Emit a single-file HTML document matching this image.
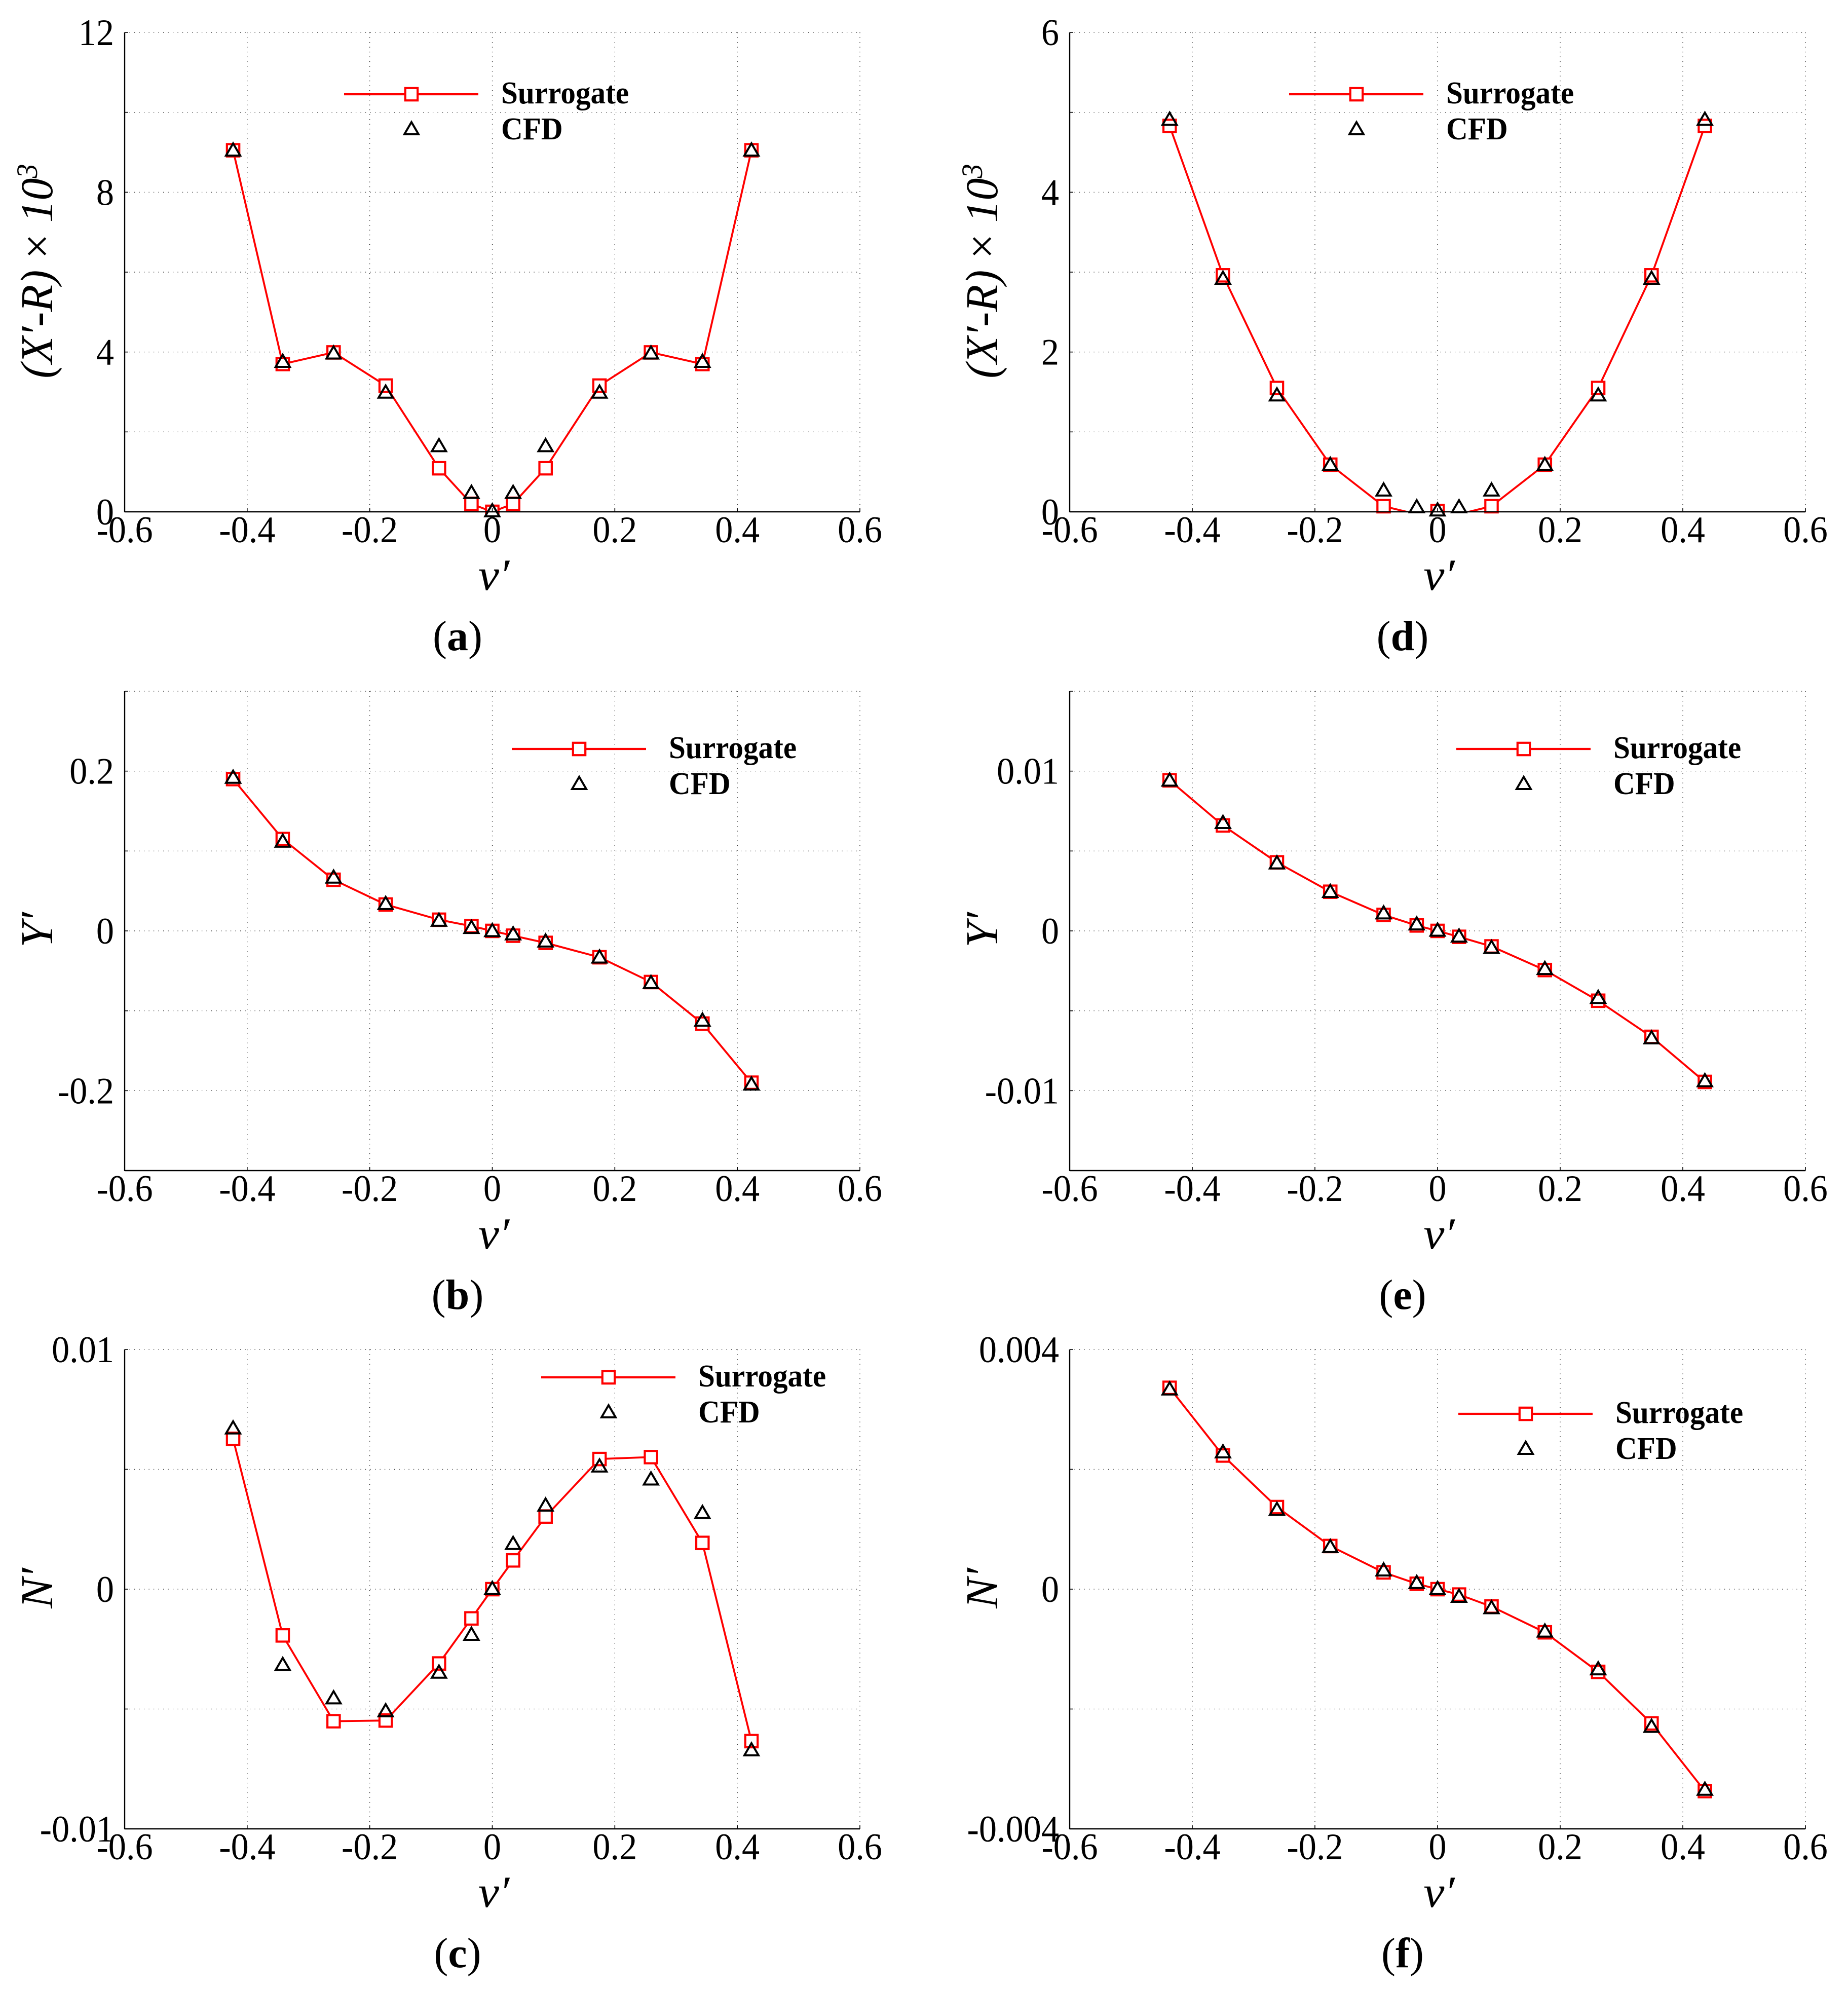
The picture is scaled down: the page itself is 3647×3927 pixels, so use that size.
<!DOCTYPE html>
<html lang="en">
<head>
<meta charset="utf-8">
<title>Surrogate vs CFD force and moment curves</title>
<style>
html,body{margin:0;padding:0;background:#fff;}
svg{display:block;}
text{font-family:"Liberation Serif",serif;fill:#000;}
</style>
</head>
<body>
<svg id="figure" xmlns="http://www.w3.org/2000/svg" width="3647" height="3927" viewBox="0 0 3647 3927">
<rect x="0" y="0" width="3647" height="3927" fill="#fff"/>
</svg>
<script>
// Shared x-axis
const xTickValues = [-0.6, -0.4, -0.2, 0, 0.2, 0.4, 0.6];
const xTickLabels = ['-0.6', '-0.4', '-0.2', '0', '0.2', '0.4', '0.6'];

// v' sample points
const vLeft = [-0.423, -0.342, -0.259, -0.174, -0.087, -0.034, 0, 0.034, 0.087, 0.175, 0.259, 0.343, 0.423];
const vRight = [-0.437, -0.350, -0.262, -0.175, -0.088, -0.034, 0, 0.035, 0.088, 0.175, 0.262, 0.349, 0.436];

// Panel (a)
const aSurrogate = [9.05, 3.70, 3.99, 3.16, 1.09, 0.20, 0.0, 0.20, 1.09, 3.16, 3.99, 3.70, 9.05];
const aCfd = [9.07, 3.78, 3.99, 3.01, 1.67, 0.50, 0.04, 0.50, 1.67, 3.01, 3.99, 3.78, 9.07];
const aYTicks = [0, 4, 8, 12];
const aYTickLabels = ['0', '4', '8', '12'];
const aYGrid = [2, 4, 6, 8, 10, 12];

// Panel (b)
const bSurrogate = [0.190, 0.115, 0.064, 0.033, 0.014, 0.006, 0, -0.006, -0.015, -0.033, -0.064, -0.116, -0.190];
const bCfd = [0.193, 0.113, 0.068, 0.035, 0.014, 0.005, 0.001, -0.003, -0.012, -0.032, -0.064, -0.111, -0.191];
const bYTicks = [-0.2, 0, 0.2];
const bYTickLabels = ['-0.2', '0', '0.2'];
const bYGrid = [-0.2, -0.1, 0, 0.1, 0.2, 0.3];

// Panel (c)
const cSurrogate = [0.00627, -0.00193, -0.00551, -0.00548, -0.0031, -0.00122, 0, 0.0012, 0.00303, 0.00543, 0.00551, 0.00193, -0.00634];
const cCfd = [0.00675, -0.00312, -0.00451, -0.00505, -0.00344, -0.00186, 0.00005, 0.00193, 0.00353, 0.00516, 0.00462, 0.00322, -0.00668];
const cYTicks = [-0.01, 0, 0.01];
const cYTickLabels = ['-0.01', '0', '0.01'];
const cYGrid = [-0.005, 0, 0.005, 0.01];

// Panel (d)
const dSurrogate = [4.83, 2.96, 1.55, 0.59, 0.07, -0.03, 0.01, -0.03, 0.07, 0.59, 1.55, 2.96, 4.83];
const dCfd = [4.92, 2.93, 1.47, 0.60, 0.28, 0.07, 0.03, 0.07, 0.28, 0.60, 1.47, 2.93, 4.92];
const dYTicks = [0, 2, 4, 6];
const dYTickLabels = ['0', '2', '4', '6'];
const dYGrid = [1, 2, 3, 4, 5, 6];

// Panel (e)
const eSurrogate = [0.00942, 0.0066, 0.00429, 0.00245, 0.001, 0.00034, 0, -0.00037, -0.00097, -0.00245, -0.00437, -0.00663, -0.00945];
const eCfd = [0.00947, 0.00682, 0.00429, 0.0025, 0.00116, 0.00047, 0.00008, -0.00029, -0.001, -0.00232, -0.00413, -0.00666, -0.00934];
const eYTicks = [-0.01, 0, 0.01];
const eYTickLabels = ['-0.01', '0', '0.01'];
const eYGrid = [-0.01, -0.005, 0, 0.005, 0.01, 0.015];

// Panel (f)
const fSurrogate = [0.00336, 0.00223, 0.00137, 0.00072, 0.00028, 0.00009, 0, -0.00009, -0.00029, -0.00072, -0.00138, -0.00224, -0.00337];
const fCfd = [0.00335, 0.0023, 0.00134, 0.00072, 0.00033, 0.00012, 0.00002, -0.00011, -0.0003, -0.00069, -0.00132, -0.00228, -0.00333];
const fYTicks = [-0.004, 0, 0.004];
const fYTickLabels = ['-0.004', '0', '0.004'];
const fYGrid = [-0.002, 0, 0.002, 0.004];

const SVGNS = 'http://www.w3.org/2000/svg';
const root = document.getElementById('figure');
const X_TITLE = 'v\u2032';
const TITLE_XR = '(X\u2032-R)<tspan font-style="normal"> \u00d7 </tspan>10<tspan dy="-30" font-size="58">3</tspan>';

function make(parent, tag, name, attrs) {
  const el = document.createElementNS(SVGNS, tag);
  for (const k in attrs) el.setAttribute(k, attrs[k]);
  
  
  parent.appendChild(el);
  return el;
}

function label(parent, name, html, x, y, size, anchor, sx, extra) {
  const attrs = Object.assign({
    transform: 'translate(' + x + ',' + y + ') scale(' + sx + ',1)',
    'font-size': size,
    'text-anchor': anchor
  }, extra || {});
  const el = make(parent, 'text', name, attrs);
  el.innerHTML = html;
  return el;
}

function triangle(cx, cy) {
  return (cx - 14) + ',' + (cy + 12) + ' ' + (cx + 14) + ',' + (cy + 12) + ' ' + cx + ',' + (cy - 12);
}

function drawPanel(p) {
  const g = make(root, 'g', 'panel-' + p.id, {});
  const xScale = v => p.left + (v - (-0.6)) / 1.2 * (p.right - p.left);
  const yScale = v => p.bottom - (v - p.yMin) / (p.yMax - p.yMin) * (p.bottom - p.top);

  const clipLine = make(g, 'clipPath', 'plot-clip', { id: 'clip-line-' + p.id });
  make(clipLine, 'rect', 'plot-clip-area', { x: p.left, y: p.top, width: p.right - p.left, height: p.bottom - p.top });
  const clipMark = make(g, 'clipPath', 'marker-clip', { id: 'clip-mark-' + p.id });
  make(clipMark, 'rect', 'marker-clip-area', { x: p.left - 40, y: p.top - 40, width: p.right - p.left + 80, height: p.bottom - p.top + 44 });

  // grid
  xTickValues.slice(1).forEach(function (v) {
    make(g, 'line', 'x-gridline', { x1: xScale(v), x2: xScale(v), y1: p.top, y2: p.bottom, stroke: '#000', 'stroke-width': 1.2, 'stroke-dasharray': '1.2 8.3' });
  });
  p.yGrid.forEach(function (v) {
    make(g, 'line', 'y-gridline', { x1: p.left, x2: p.right, y1: yScale(v), y2: yScale(v), stroke: '#000', 'stroke-width': 1.2, 'stroke-dasharray': '1.2 8.3' });
  });

  // surrogate line
  const pts = p.v.map(function (v, i) { return xScale(v) + ',' + yScale(p.surrogate[i]); }).join(' ');
  make(g, 'polyline', 'surrogate-line', { points: pts, fill: 'none', stroke: '#f00', 'stroke-width': 3.8, 'clip-path': 'url(#clip-line-' + p.id + ')' });

  // surrogate markers
  const sq = make(g, 'g', 'surrogate-markers', { 'clip-path': 'url(#clip-mark-' + p.id + ')' });
  p.v.forEach(function (v, i) {
    const val = p.surrogate[i];
    if (val < p.yMin) return;
    make(sq, 'rect', 'surrogate-marker', { x: xScale(v) - 12.2, y: yScale(val) - 12.2, width: 24.4, height: 24.4, fill: '#fff', stroke: '#f00', 'stroke-width': 4.2 });
  });

  // axes and ticks
  make(g, 'line', 'y-axis', { x1: p.left, x2: p.left, y1: p.top, y2: p.bottom + 1, stroke: '#000', 'stroke-width': 2.4 });
  make(g, 'line', 'x-axis', { x1: p.left, x2: p.right, y1: p.bottom, y2: p.bottom, stroke: '#000', 'stroke-width': 2.6 });
  xTickValues.forEach(function (v, i) {
    make(g, 'line', 'x-tick', { x1: xScale(v), x2: xScale(v), y1: p.bottom, y2: p.bottom - 7, stroke: '#000', 'stroke-width': 1.6 });
    label(g, 'x-tick-label', xTickLabels[i], xScale(v), p.bottom + 60, 74, 'middle', 0.95);
  });
  p.yGrid.forEach(function (v) {
    make(g, 'line', 'y-tick', { x1: p.left, x2: p.left + 7, y1: yScale(v), y2: yScale(v), stroke: '#000', 'stroke-width': 1.6 });
  });
  p.yTicks.forEach(function (v, i) {
    label(g, 'y-tick-label', p.yTickLabels[i], p.left - 21, yScale(v) + 25, 74, 'end', 0.95);
  });

  // CFD markers
  const tr = make(g, 'g', 'cfd-markers', {});
  p.v.forEach(function (v, i) {
    const cx = xScale(v), cy = yScale(p.cfd[i]);
    make(tr, 'polygon', 'cfd-marker', { points: triangle(cx, cy), fill: 'none', stroke: '#000', 'stroke-width': 4 });
  });

  // titles
  label(g, 'x-axis-title', X_TITLE, (p.left + p.right) / 2 + 3, p.bottom + 154, 88, 'middle', 1.05, { 'font-style': 'italic' });
  const cy = (p.top + p.bottom) / 2 - 2;
  const yt = make(g, 'text', 'y-axis-title', {
    transform: 'translate(' + (p.left - 143) + ',' + cy + ') rotate(-90) scale(' + p.titleScale + ',1)',
    'font-size': 90, 'text-anchor': 'middle', 'font-style': 'italic'
  });
  yt.innerHTML = p.yTitle;

  // caption
  const cap = make(g, 'text', 'panel-caption', { x: p.capX, y: p.bottom + 273, 'font-size': 84, 'text-anchor': 'middle' });
  cap.innerHTML = '(<tspan font-weight="bold">' + p.id + '</tspan>)';

  // legend
  const lg = make(g, 'g', 'legend', {});
  const ly = p.legendY;
  make(lg, 'line', 'legend-surrogate-line', { x1: p.legendX, x2: p.legendX + 265, y1: ly, y2: ly, stroke: '#f00', 'stroke-width': 4.2 });
  make(lg, 'rect', 'legend-surrogate-marker', { x: p.legendX + 133 - 12.2, y: ly - 12.2, width: 24.4, height: 24.4, fill: '#fff', stroke: '#f00', 'stroke-width': 4.2 });
  make(lg, 'polygon', 'legend-cfd-marker', { points: triangle(p.legendX + 133, ly + 67), fill: 'none', stroke: '#000', 'stroke-width': 4 });
  label(lg, 'legend-surrogate-label', 'Surrogate', p.legendX + 310, ly + 18, 63, 'start', 0.94, { 'font-weight': 'bold' });
  label(lg, 'legend-cfd-label', 'CFD', p.legendX + 310, ly + 89, 63, 'start', 0.94, { 'font-weight': 'bold' });
}

const L = { left: 246, right: 1697, capX: 903, v: vLeft };
const R = { left: 2111, right: 3563, capX: 2768, v: vRight };
const ROW1 = { top: 64, bottom: 1010 };
const ROW2 = { top: 1364, bottom: 2310 };
const ROW3 = { top: 2663, bottom: 3609 };

drawPanel(Object.assign({ id: 'a', yMin: 0, yMax: 12, surrogate: aSurrogate, cfd: aCfd, yTicks: aYTicks, yTickLabels: aYTickLabels, yGrid: aYGrid, yTitle: TITLE_XR, titleScale: 0.975, legendX: 679, legendY: 186 }, L, ROW1));
drawPanel(Object.assign({ id: 'b', yMin: -0.3, yMax: 0.3, surrogate: bSurrogate, cfd: bCfd, yTicks: bYTicks, yTickLabels: bYTickLabels, yGrid: bYGrid, yTitle: 'Y\u2032', titleScale: 1, legendX: 1010, legendY: 1478 }, L, ROW2));
drawPanel(Object.assign({ id: 'c', yMin: -0.01, yMax: 0.01, surrogate: cSurrogate, cfd: cCfd, yTicks: cYTicks, yTickLabels: cYTickLabels, yGrid: cYGrid, yTitle: 'N\u2032', titleScale: 1, legendX: 1068, legendY: 2718 }, L, ROW3));
drawPanel(Object.assign({ id: 'd', yMin: 0, yMax: 6, surrogate: dSurrogate, cfd: dCfd, yTicks: dYTicks, yTickLabels: dYTickLabels, yGrid: dYGrid, yTitle: TITLE_XR, titleScale: 0.975, legendX: 2544, legendY: 186 }, R, ROW1));
drawPanel(Object.assign({ id: 'e', yMin: -0.015, yMax: 0.015, surrogate: eSurrogate, cfd: eCfd, yTicks: eYTicks, yTickLabels: eYTickLabels, yGrid: eYGrid, yTitle: 'Y\u2032', titleScale: 1, legendX: 2874, legendY: 1478 }, R, ROW2));
drawPanel(Object.assign({ id: 'f', yMin: -0.004, yMax: 0.004, surrogate: fSurrogate, cfd: fCfd, yTicks: fYTicks, yTickLabels: fYTickLabels, yGrid: fYGrid, yTitle: 'N\u2032', titleScale: 1, legendX: 2878, legendY: 2790 }, R, ROW3));
</script>
</body>
</html>
